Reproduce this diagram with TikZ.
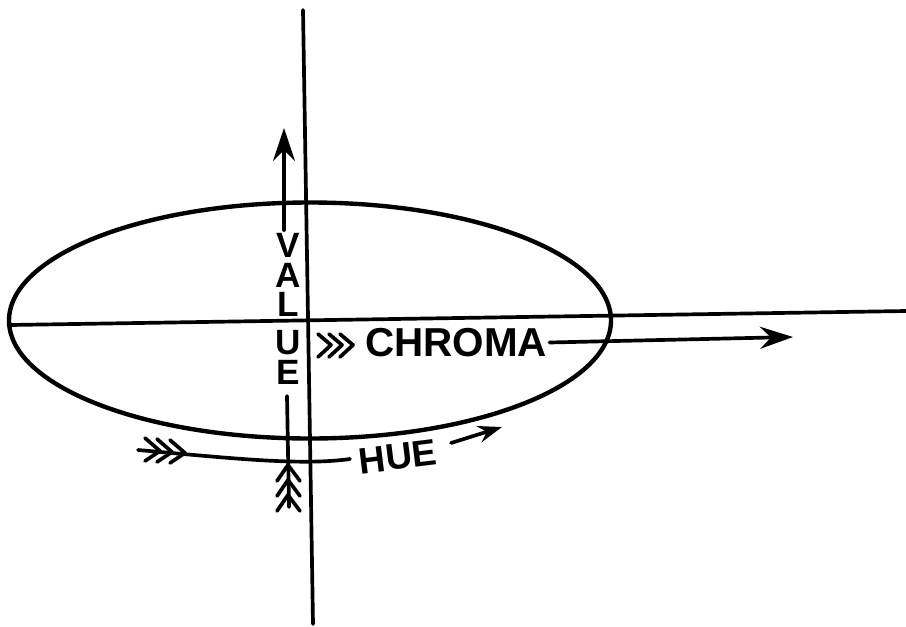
\documentclass[tikz,border=0pt]{standalone}
\usepackage{fontspec}
\setmainfont{Liberation Sans}
\usetikzlibrary{arrows.meta}
\begin{document}
\begin{tikzpicture}[x=0.02cm,y=-0.02cm, line cap=round, line join=round,
  ln/.style={line width=2.1pt},
  thick ln/.style={line width=2.5pt},
  lbl/.style={font=\bfseries\fontsize{20}{17}\selectfont, inner sep=0pt},
  bigarrow/.style={-{Stealth[length=0.66cm,width=0.44cm,inset=0.22cm]}},
  midarrow/.style={-{Stealth[length=0.48cm,width=0.34cm,inset=0.16cm]}}
]
\useasboundingbox (0,0) rectangle (906,626);
% axes
\coordinate (vtop) at (303,10);
\coordinate (vbot) at (313,624);
\coordinate (hleft) at (10,325);
\coordinate (hright) at (906,311);
\draw[ln] (vtop) -- (vbot);
\draw[ln] (hleft) -- (hright);
% ellipse
\coordinate (ec) at (310,320.5);
\draw[thick ln] (ec) ellipse [x radius=301, y radius=118];
% VALUE
\coordinate (va1) at (284,230);
\coordinate (va2) at (284,128);
\draw[ln,bigarrow] (va1) -- (va2);
\node[lbl, align=center] (value) at (288,309) {V\\A\\[-0.6pt]L\\[5.1pt]U\\E};
\coordinate (vb1) at (287,396);
\coordinate (vb2) at (289,507);
\draw[ln] (vb1) -- (vb2);
\foreach \yy in {465,480,495}{
  \draw[ln] (277,\yy+16) -- (288,\yy) -- (300,\yy+16);
}
% CHROMA
\node[font=\bfseries\fontsize{23}{23}\selectfont, inner sep=0pt, anchor=west] (chroma) at (365,342.5) {CHROMA};
\foreach \xx in {331,342,353}{
  \draw[ln] (\xx-13,334) -- (\xx,345) -- (\xx-13,357);
}
\coordinate (ca2) at (793,337);
\draw[ln,bigarrow] (chroma.east) ++(2,0) coordinate (ca1) -- (ca2);
% HUE
\coordinate (h0) at (138,450);
\coordinate (h1) at (350,459);
\draw[ln] (h0) .. controls (230,458) and (300,466) .. (h1);
\foreach \xx/\yy in {160/451,172/452,185/453}{
  \draw[ln] (\xx-15,\yy-13) -- (\xx,\yy) -- (\xx-15,\yy+10);
}
\node[lbl, rotate=7, font=\bfseries\fontsize{21}{21}\selectfont] (hue) at (398,457) {HUE};
\coordinate (ha1) at (451,443);
\coordinate (ha2) at (502,427);
\draw[ln,midarrow] (ha1) -- (ha2);
\end{tikzpicture}
\end{document}
